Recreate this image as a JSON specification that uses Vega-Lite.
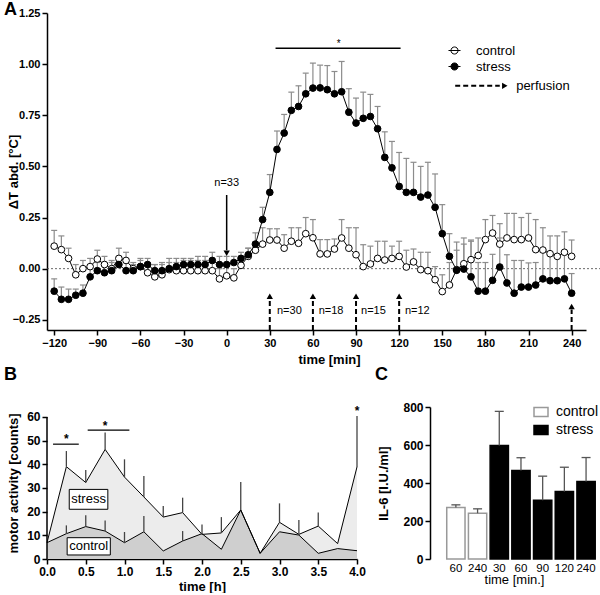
{
  "$schema": "https://vega.github.io/schema/vega-lite/v6.json",
  "padding": {"left": 3, "top": 1, "right": 0, "bottom": 0},
  "config": {
    "font": "Liberation Sans",
    "view": {"stroke": null},
    "axis": {"grid": false, "zindex": 1, "domainColor": "black", "domainWidth": 1.5, "tickColor": "black", "tickWidth": 1.5, "tickSize": 5, "labelColor": "black", "labelFontWeight": "bold", "labelFontSize": 11, "labelPadding": 2, "labelFlush": false, "titleColor": "black", "titleFontWeight": "bold", "titleFontSize": 13},
    "legend": {"labelColor": "black", "labelFont": "Liberation Sans"},
    "title": {"color": "black"}
  },
  "resolve": {"scale": {"fill": "independent", "stroke": "independent"}, "legend": {"fill": "independent", "stroke": "independent"}},
  "datasets": {
    "a": [
      {"t":-120,"s":"control","v":0.11,"hi":0.187},{"t":-115,"s":"control","v":0.093,"hi":0.16},{"t":-110,"s":"control","v":0.05,"hi":0.1},{"t":-105,"s":"control","v":-0.03,"hi":0.02},{"t":-100,"s":"control","v":0.0,"hi":0.04},{"t":-95,"s":"control","v":0.01,"hi":0.05},{"t":-90,"s":"control","v":0.047,"hi":0.09},{"t":-85,"s":"control","v":0.02,"hi":0.06},{"t":-80,"s":"control","v":0.0,"hi":0.04},{"t":-75,"s":"control","v":0.05,"hi":0.1},{"t":-70,"s":"control","v":0.04,"hi":0.08},{"t":-65,"s":"control","v":0.0,"hi":0.03},{"t":-60,"s":"control","v":0.01,"hi":0.04},{"t":-55,"s":"control","v":-0.02,"hi":0.03},{"t":-50,"s":"control","v":-0.04,"hi":0.02},{"t":-45,"s":"control","v":-0.03,"hi":0.02},{"t":-40,"s":"control","v":-0.005,"hi":0.05},{"t":-35,"s":"control","v":-0.01,"hi":0.03},{"t":-30,"s":"control","v":-0.01,"hi":0.04},{"t":-25,"s":"control","v":-0.01,"hi":0.04},{"t":-20,"s":"control","v":-0.01,"hi":0.04},{"t":-15,"s":"control","v":-0.01,"hi":0.04},{"t":-10,"s":"control","v":-0.01,"hi":0.04},{"t":-5,"s":"control","v":-0.05,"hi":0.0},{"t":0,"s":"control","v":-0.035,"hi":0.01},{"t":5,"s":"control","v":-0.045,"hi":0.0},{"t":10,"s":"control","v":0.016,"hi":0.06},{"t":15,"s":"control","v":0.06,"hi":0.1},{"t":20,"s":"control","v":0.09,"hi":0.13},{"t":25,"s":"control","v":0.12,"hi":0.2},{"t":30,"s":"control","v":0.14,"hi":0.195},{"t":35,"s":"control","v":0.14,"hi":0.195},{"t":40,"s":"control","v":0.1,"hi":0.166},{"t":45,"s":"control","v":0.134,"hi":0.2},{"t":50,"s":"control","v":0.124,"hi":0.2},{"t":55,"s":"control","v":0.171,"hi":0.25},{"t":60,"s":"control","v":0.151,"hi":0.24},{"t":65,"s":"control","v":0.072,"hi":0.142},{"t":70,"s":"control","v":0.072,"hi":0.142},{"t":75,"s":"control","v":0.096,"hi":0.145},{"t":80,"s":"control","v":0.15,"hi":0.24},{"t":85,"s":"control","v":0.1,"hi":0.2},{"t":90,"s":"control","v":0.068,"hi":0.2},{"t":95,"s":"control","v":0.01,"hi":0.117},{"t":100,"s":"control","v":0.023,"hi":0.11},{"t":105,"s":"control","v":0.05,"hi":0.134},{"t":110,"s":"control","v":0.042,"hi":0.134},{"t":115,"s":"control","v":0.05,"hi":0.11},{"t":120,"s":"control","v":0.06,"hi":0.134},{"t":125,"s":"control","v":0.008,"hi":0.09},{"t":130,"s":"control","v":0.033,"hi":0.096},{"t":135,"s":"control","v":-0.005,"hi":0.08},{"t":140,"s":"control","v":-0.01,"hi":0.08},{"t":145,"s":"control","v":-0.054,"hi":0.01},{"t":150,"s":"control","v":-0.112,"hi":-0.03},{"t":155,"s":"control","v":-0.08,"hi":0.03},{"t":160,"s":"control","v":-0.005,"hi":0.09},{"t":165,"s":"control","v":0.024,"hi":0.12},{"t":170,"s":"control","v":0.044,"hi":0.14},{"t":175,"s":"control","v":0.064,"hi":0.15},{"t":180,"s":"control","v":0.142,"hi":0.24},{"t":185,"s":"control","v":0.174,"hi":0.26},{"t":190,"s":"control","v":0.12,"hi":0.22},{"t":195,"s":"control","v":0.15,"hi":0.27},{"t":200,"s":"control","v":0.142,"hi":0.27},{"t":205,"s":"control","v":0.142,"hi":0.25},{"t":210,"s":"control","v":0.15,"hi":0.27},{"t":215,"s":"control","v":0.093,"hi":0.24},{"t":220,"s":"control","v":0.091,"hi":0.2},{"t":225,"s":"control","v":0.073,"hi":0.16},{"t":230,"s":"control","v":0.06,"hi":0.16},{"t":235,"s":"control","v":0.08,"hi":0.18},{"t":240,"s":"control","v":0.06,"hi":0.14},
      {"t":-120,"s":"stress","v":-0.11,"hi":-0.05},{"t":-115,"s":"stress","v":-0.15,"hi":-0.09},{"t":-110,"s":"stress","v":-0.15,"hi":-0.1},{"t":-105,"s":"stress","v":-0.13,"hi":-0.1},{"t":-100,"s":"stress","v":-0.12,"hi":-0.08},{"t":-95,"s":"stress","v":-0.04,"hi":0.0},{"t":-90,"s":"stress","v":-0.01,"hi":0.03},{"t":-85,"s":"stress","v":-0.02,"hi":0.02},{"t":-80,"s":"stress","v":-0.01,"hi":0.03},{"t":-75,"s":"stress","v":0.02,"hi":0.06},{"t":-70,"s":"stress","v":-0.01,"hi":0.03},{"t":-65,"s":"stress","v":-0.01,"hi":0.02},{"t":-60,"s":"stress","v":0.01,"hi":0.05},{"t":-55,"s":"stress","v":0.02,"hi":0.05},{"t":-50,"s":"stress","v":-0.01,"hi":0.02},{"t":-45,"s":"stress","v":-0.01,"hi":0.03},{"t":-40,"s":"stress","v":0.0,"hi":0.03},{"t":-35,"s":"stress","v":0.01,"hi":0.05},{"t":-30,"s":"stress","v":0.02,"hi":0.05},{"t":-25,"s":"stress","v":0.02,"hi":0.05},{"t":-20,"s":"stress","v":0.02,"hi":0.06},{"t":-15,"s":"stress","v":0.02,"hi":0.06},{"t":-10,"s":"stress","v":0.04,"hi":0.08},{"t":-5,"s":"stress","v":0.02,"hi":0.06},{"t":0,"s":"stress","v":0.02,"hi":0.06},{"t":5,"s":"stress","v":0.03,"hi":0.06},{"t":10,"s":"stress","v":0.05,"hi":0.08},{"t":15,"s":"stress","v":0.068,"hi":0.1},{"t":20,"s":"stress","v":0.12,"hi":0.175},{"t":25,"s":"stress","v":0.24,"hi":0.3},{"t":30,"s":"stress","v":0.373,"hi":0.46},{"t":35,"s":"stress","v":0.583,"hi":0.673},{"t":40,"s":"stress","v":0.663,"hi":0.754},{"t":45,"s":"stress","v":0.774,"hi":0.863},{"t":50,"s":"stress","v":0.793,"hi":0.894},{"t":55,"s":"stress","v":0.855,"hi":0.956},{"t":60,"s":"stress","v":0.883,"hi":1.005},{"t":65,"s":"stress","v":0.884,"hi":0.995},{"t":70,"s":"stress","v":0.875,"hi":0.993},{"t":75,"s":"stress","v":0.855,"hi":0.964},{"t":80,"s":"stress","v":0.865,"hi":1.013},{"t":85,"s":"stress","v":0.765,"hi":0.88},{"t":90,"s":"stress","v":0.712,"hi":0.834},{"t":95,"s":"stress","v":0.735,"hi":0.863},{"t":100,"s":"stress","v":0.744,"hi":0.852},{"t":105,"s":"stress","v":0.684,"hi":0.793},{"t":110,"s":"stress","v":0.544,"hi":0.669},{"t":115,"s":"stress","v":0.493,"hi":0.622},{"t":120,"s":"stress","v":0.402,"hi":0.568},{"t":125,"s":"stress","v":0.373,"hi":0.539},{"t":130,"s":"stress","v":0.373,"hi":0.52},{"t":135,"s":"stress","v":0.35,"hi":0.5},{"t":140,"s":"stress","v":0.36,"hi":0.52},{"t":145,"s":"stress","v":0.3,"hi":0.463},{"t":150,"s":"stress","v":0.171,"hi":0.313},{"t":155,"s":"stress","v":0.06,"hi":0.171},{"t":160,"s":"stress","v":-0.008,"hi":0.13},{"t":165,"s":"stress","v":-0.002,"hi":0.15},{"t":170,"s":"stress","v":-0.04,"hi":0.134},{"t":175,"s":"stress","v":-0.11,"hi":0.03},{"t":180,"s":"stress","v":-0.11,"hi":0.03},{"t":185,"s":"stress","v":-0.057,"hi":0.07},{"t":190,"s":"stress","v":0.008,"hi":0.15},{"t":195,"s":"stress","v":-0.07,"hi":0.068},{"t":200,"s":"stress","v":-0.12,"hi":0.04},{"t":205,"s":"stress","v":-0.09,"hi":0.04},{"t":210,"s":"stress","v":-0.09,"hi":0.028},{"t":215,"s":"stress","v":-0.08,"hi":0.03},{"t":220,"s":"stress","v":-0.05,"hi":0.08},{"t":225,"s":"stress","v":-0.059,"hi":0.07},{"t":230,"s":"stress","v":-0.059,"hi":0.07},{"t":235,"s":"stress","v":-0.05,"hi":0.07},{"t":240,"s":"stress","v":-0.12,"hi":-0.024}
    ],
    "b": [
      {"t":0,"s":"stress","v":6.9},{"t":0.25,"s":"stress","v":39.0,"hi":45.6},{"t":0.5,"s":"stress","v":32.3,"hi":37.6},{"t":0.75,"s":"stress","v":46.3,"hi":53.4},{"t":1.0,"s":"stress","v":34.6,"hi":42.1},{"t":1.25,"s":"stress","v":26.2,"hi":35.1},{"t":1.5,"s":"stress","v":17.7,"hi":22.4},{"t":1.75,"s":"stress","v":19.6,"hi":25.9},{"t":2.0,"s":"stress","v":10.4,"hi":14.6},{"t":2.25,"s":"stress","v":11.0,"hi":17.7},{"t":2.5,"s":"stress","v":20.7,"hi":32.5},{"t":2.75,"s":"stress","v":2.4},{"t":3.0,"s":"stress","v":15.5,"hi":23.5},{"t":3.25,"s":"stress","v":10.4,"hi":16.5},{"t":3.5,"s":"stress","v":13.9,"hi":19.6},{"t":3.75,"s":"stress","v":6.5},{"t":4.0,"s":"stress","v":38.9,"hi":60.4},
      {"t":0,"s":"control","v":6.9},{"t":0.25,"s":"control","v":10.7,"hi":14.2},{"t":0.5,"s":"control","v":13.7,"hi":18.5},{"t":0.75,"s":"control","v":11.8,"hi":16.3},{"t":1.0,"s":"control","v":6.9,"hi":11.4},{"t":1.25,"s":"control","v":11.5,"hi":18.2},{"t":1.5,"s":"control","v":3.4},{"t":1.75,"s":"control","v":7.6,"hi":11.8},{"t":2.0,"s":"control","v":10.7},{"t":2.25,"s":"control","v":4.1},{"t":2.5,"s":"control","v":20.7},{"t":2.75,"s":"control","v":2.4},{"t":3.0,"s":"control","v":11.5},{"t":3.25,"s":"control","v":10.1},{"t":3.5,"s":"control","v":2.4},{"t":3.75,"s":"control","v":4.4},{"t":4.0,"s":"control","v":3.5}
    ],
    "c": [
      {"k":"c60","g":"control","v":271,"hi":285},{"k":"c240","g":"control","v":241,"hi":264},{"k":"s30","g":"stress","v":598,"hi":777},{"k":"s60","g":"stress","v":466,"hi":533},{"k":"s90","g":"stress","v":309,"hi":436},{"k":"s120","g":"stress","v":355,"hi":483},{"k":"s240","g":"stress","v":408,"hi":534}
    ]
  },
  "spacing": 0,
  "vconcat": [
    {
      "width": 539,
      "height": 317,
      "title": {"text": "A", "anchor": "start", "frame": "bounds", "fontSize": 18, "fontWeight": "bold", "baseline": "alphabetic", "offset": -26, "dx": -3},
      "data": {"name": "a"},
      "encoding": {
        "x": {"field": "t", "type": "quantitative", "scale": {"domain": [-125, 250], "nice": false, "zero": false},
              "axis": {"values": [-120,-90,-60,-30,0,30,60,90,120,150,180,210,240], "title": "time [min]", "titleX": 282, "titlePadding": 5}},
        "y": {"field": "v", "type": "quantitative", "scale": {"domain": [-0.3, 1.25], "nice": false, "zero": false},
              "axis": {"values": [-0.25,0,0.25,0.5,0.75,1,1.25], "format": ".2f", "title": "ΔT abd. [°C]", "titleX": -27}}
      },
      "layer": [
        {"data": {"values": [{"t": -125, "t2": 262, "v": 0}]}, "mark": {"type": "rule", "strokeDash": [2, 2], "strokeWidth": 0.8, "color": "#444"}, "encoding": {"x2": {"field": "t2"}}},
        {"mark": {"type": "rule", "color": "#8c8c8c", "strokeWidth": 1.2}, "encoding": {"y2": {"field": "hi"}}},
        {"mark": {"type": "tick", "orient": "horizontal", "size": 6, "thickness": 1.2, "color": "#8c8c8c", "opacity": 1},
         "encoding": {"y": {"field": "hi", "type": "quantitative", "scale": {"domain": [-0.3, 1.25], "nice": false, "zero": false},
              "axis": {"values": [-0.25,0,0.25,0.5,0.75,1,1.25], "format": ".2f", "title": "ΔT abd. [°C]", "titleX": -27}}}},
        {"mark": {"type": "line", "color": "black", "strokeWidth": 1}, "encoding": {"detail": {"field": "s"}}},
        {"mark": {"type": "point", "shape": "circle", "size": 45, "stroke": "black", "strokeWidth": 1, "opacity": 1},
         "encoding": {"fill": {"field": "s", "type": "nominal", "scale": {"domain": ["control", "stress"], "range": ["white", "black"]},
           "legend": {"orient": "none", "legendX": 401, "legendY": 31, "title": null, "padding": 0, "symbolType": "M-1.7,0H1.7M-1,0A1,1 0 1,0 1,0A1,1 0 1,0 -1,0Z", "symbolSize": 50, "symbolStrokeColor": "black", "symbolStrokeWidth": 1, "labelFontSize": 13, "labelOffset": 15, "rowPadding": 2}}}},
        {"data": {"values": [{"t": 34, "t2": 121, "v": 1.078}]}, "mark": {"type": "rule", "strokeWidth": 1.5, "color": "black"}, "encoding": {"x2": {"field": "t2"}}},
        {"data": {"values": [{"t": 78, "v": 1.1, "label": "*"}]}, "mark": {"type": "text", "fontSize": 10, "baseline": "middle"}, "encoding": {"text": {"field": "label"}}},
        {"data": {"values": [{"t": 0, "v": 0.36, "v2": 0.09}]}, "mark": {"type": "rule", "strokeWidth": 1.5, "color": "black"}, "encoding": {"y2": {"field": "v2"}}},
        {"data": {"values": [{"t": 0, "v": 0.075}]}, "mark": {"type": "point", "shape": "triangle-down", "size": 40, "filled": true, "color": "black", "opacity": 1}},
        {"data": {"values": [{"t": 0, "v": 0.42, "label": "n=33"}]}, "mark": {"type": "text", "fontSize": 11, "baseline": "middle", "align": "center"}, "encoding": {"text": {"field": "label"}}},
        {"data": {"values": [{"t": 30, "v": -0.3, "v2": -0.15}, {"t": 60, "v": -0.3, "v2": -0.15}, {"t": 90, "v": -0.3, "v2": -0.15}, {"t": 120, "v": -0.3, "v2": -0.15}, {"t": 240, "v": -0.3, "v2": -0.2}]},
         "mark": {"type": "rule", "strokeWidth": 2, "strokeDash": [5, 3], "color": "black"}, "encoding": {"y2": {"field": "v2"}}},
        {"data": {"values": [{"t": 30, "v": -0.135}, {"t": 60, "v": -0.135}, {"t": 90, "v": -0.135}, {"t": 120, "v": -0.135}, {"t": 240, "v": -0.185}]},
         "mark": {"type": "point", "shape": "triangle-up", "size": 40, "filled": true, "color": "black", "opacity": 1}},
        {"data": {"values": [{"t": 35, "v": -0.205, "label": "n=30"}, {"t": 64, "v": -0.205, "label": "n=18"}, {"t": 93.5, "v": -0.205, "label": "n=15"}, {"t": 124, "v": -0.205, "label": "n=12"}]},
         "mark": {"type": "text", "fontSize": 11, "baseline": "middle", "align": "left"}, "encoding": {"text": {"field": "label"}}},
        {"data": {"values": [{"t": 159, "t2": 190, "v": 0.894}]}, "mark": {"type": "rule", "strokeWidth": 2, "strokeDash": [5, 3], "color": "black"}, "encoding": {"x2": {"field": "t2"}}},
        {"data": {"values": [{"t": 193.5, "v": 0.894}]}, "mark": {"type": "point", "shape": "triangle-right", "size": 40, "filled": true, "color": "black", "opacity": 1}},
        {"data": {"values": [{"t": 201.4, "v": 0.894, "label": "perfusion"}]}, "mark": {"type": "text", "fontSize": 13, "baseline": "middle", "align": "left"}, "encoding": {"text": {"field": "label"}}}
      ]
    },
    {
      "spacing": 8,
      "resolve": {"scale": {"fill": "independent", "stroke": "independent"}},
      "hconcat": [
        {
          "width": 310,
          "height": 152,
          "title": {"text": "B", "anchor": "start", "frame": "bounds", "fontSize": 18, "fontWeight": "bold", "baseline": "alphabetic", "offset": 7, "dx": -3},
          "data": {"name": "b"},
          "encoding": {
            "x": {"field": "t", "type": "quantitative", "scale": {"domain": [0, 4], "nice": false},
                  "axis": {"values": [0,0.5,1,1.5,2,2.5,3,3.5,4], "format": ".1f", "title": "time [h]", "labelFontSize": 12, "titlePadding": 3}},
            "y": {"field": "v", "type": "quantitative", "scale": {"domain": [0, 64.2], "nice": false},
                  "axis": {"values": [0,10,20,30,40,50,60], "domain": false, "title": "motor activity [counts]", "labelFontSize": 12, "titleX": -27}}
          },
          "layer": [
            {"transform": [{"filter": "datum.s === 'stress'"}], "mark": {"type": "area", "fill": "#ececec", "opacity": 1}},
            {"transform": [{"filter": "datum.s === 'control'"}], "mark": {"type": "area", "fill": "#cfcfcf", "opacity": 1}},
            {"mark": {"type": "line", "color": "black", "strokeWidth": 1}, "encoding": {"detail": {"field": "s"}}},
            {"transform": [{"filter": "isValid(datum.hi)"}], "mark": {"type": "rule", "color": "#444", "strokeWidth": 1.3}, "encoding": {"y2": {"field": "hi"}}},
            {"data": {"values": [{"t": 0.287, "t2": 0.785, "v": 21.0, "v2": 29.4}, {"t": 0.26, "t2": 0.817, "v": 1.7, "v2": 9.0}]},
             "mark": {"type": "rect", "fill": "white", "stroke": "black", "strokeWidth": 1}, "encoding": {"x2": {"field": "t2"}, "y2": {"field": "v2"}}},
            {"data": {"values": [{"t": 0.536, "v": 25.2, "label": "stress"}, {"t": 0.538, "v": 5.35, "label": "control"}]},
             "mark": {"type": "text", "fontSize": 13, "baseline": "middle", "align": "center"}, "encoding": {"text": {"field": "label"}}},
            {"data": {"values": [{"t": 0.078, "t2": 0.41, "v": 48.5}, {"t": 0.525, "t2": 1.063, "v": 54.4}]},
             "mark": {"type": "rule", "strokeWidth": 1.2, "color": "black"}, "encoding": {"x2": {"field": "t2"}}},
            {"data": {"values": [{"t": 0.25, "v": 50.5, "label": "*"}, {"t": 0.75, "v": 56.3, "label": "*"}, {"t": 4.0, "v": 62.4, "label": "*"}]},
             "mark": {"type": "text", "fontSize": 12, "fontWeight": "bold", "baseline": "middle", "align": "center"}, "encoding": {"text": {"field": "label"}}},
            {"data": {"values": [{"t": 0, "v": 0, "v2": 60}]}, "mark": {"type": "rule", "strokeWidth": 1.5, "color": "black"}, "encoding": {"y2": {"field": "v2"}}}
          ]
        },
        {
          "width": 168,
          "height": 152,
          "title": {"text": "C", "anchor": "start", "frame": "bounds", "fontSize": 18, "fontWeight": "bold", "baseline": "alphabetic", "offset": 3, "dx": -2},
          "data": {"name": "c"},
          "encoding": {
            "x": {"field": "k", "type": "nominal", "sort": null, "scale": {"paddingInner": 0.157, "paddingOuter": 0.45, "align": 0.857},
                  "axis": {"labelExpr": "slice(datum.label, 1)", "domain": false, "ticks": false, "labelAngle": 0, "labelFontWeight": "normal", "labelFontSize": 11.5, "labelPadding": 3, "title": "time [min.]", "titleFontWeight": "normal", "titleFontSize": 13, "titlePadding": 0}},
            "y": {"field": "v", "type": "quantitative", "scale": {"domain": [0, 800], "nice": false},
                  "axis": {"values": [0,200,400,600,800], "title": "IL-6 [I.U./ml]", "labelFontSize": 12, "titleX": -40}}
          },
          "layer": [
            {"mark": {"type": "bar", "strokeWidth": 1.5},
             "encoding": {
               "fill": {"field": "g", "type": "nominal", "scale": {"domain": ["control", "stress"], "range": ["white", "black"]},
                        "legend": {"orient": "none", "legendX": 104, "legendY": -2, "title": null, "padding": 0, "symbolType": "M-1.4,-0.9H1.4V0.9H-1.4Z", "symbolSize": 100, "symbolStrokeWidth": 1.5, "labelFontSize": 14, "labelOffset": 8, "rowPadding": 2}},
               "stroke": {"field": "g", "type": "nominal", "scale": {"domain": ["control", "stress"], "range": ["#999999", "black"]},
                        "legend": {"orient": "none", "legendX": 104, "legendY": -2, "title": null, "padding": 0, "symbolType": "M-1.4,-0.9H1.4V0.9H-1.4Z", "symbolSize": 100, "symbolStrokeWidth": 1.5, "labelFontSize": 14, "labelOffset": 8, "rowPadding": 2}}
             }},
            {"mark": {"type": "rule", "color": "#555", "strokeWidth": 1.3}, "encoding": {"y2": {"field": "hi"}}},
            {"mark": {"type": "tick", "orient": "horizontal", "size": 9, "thickness": 1.3, "color": "#555", "opacity": 1},
             "encoding": {"y": {"field": "hi", "type": "quantitative", "scale": {"domain": [0, 800], "nice": false},
                  "axis": {"values": [0,200,400,600,800], "title": "IL-6 [I.U./ml]", "labelFontSize": 12, "titleX": -40}}}}
          ]
        }
      ]
    }
  ]
}
